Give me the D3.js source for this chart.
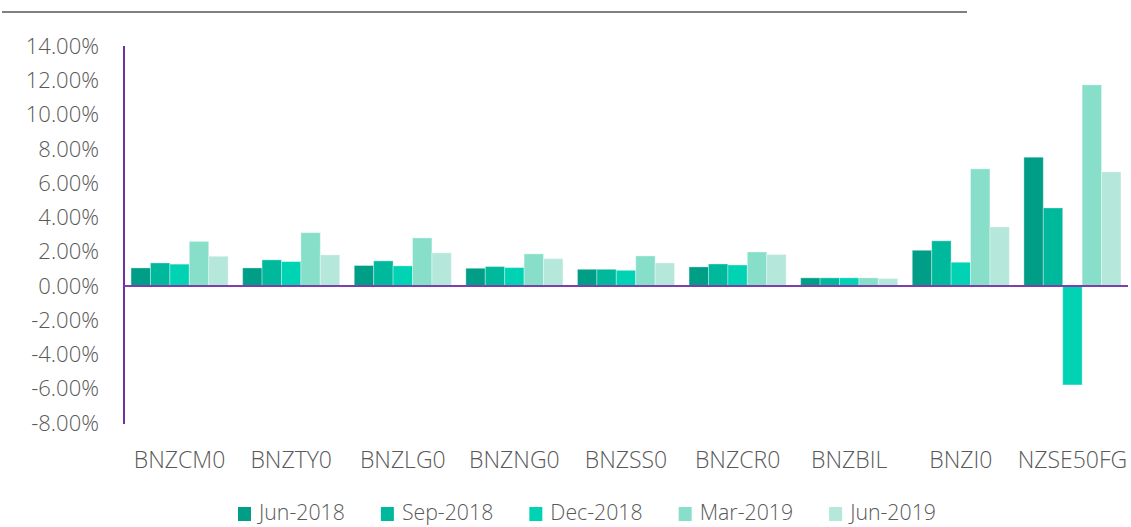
<!DOCTYPE html>
<html>
<head>
<meta charset="utf-8">
<script src="https://cdn.jsdelivr.net/npm/d3@7"></script>
<style>
  body { margin: 0; background: #fff; }
  svg text { font-family: "Open Sans", sans-serif; font-weight: 300; fill: #595959; }
</style>
</head>
<body>
<div id="chart"></div>
<script>
// chart data
const categories = ['BNZCM0', 'BNZTY0', 'BNZLG0', 'BNZNG0', 'BNZSS0', 'BNZCR0', 'BNZBIL', 'BNZI0', 'NZSE50FG'];
const seriesNames = ['Jun-2018', 'Sep-2018', 'Dec-2018', 'Mar-2019', 'Jun-2019'];
const jun2018 = [1.05, 1.05, 1.19, 1.03, 0.97, 1.11, 0.47, 2.08, 7.51];
const sep2018 = [1.34, 1.52, 1.46, 1.13, 0.97, 1.28, 0.47, 2.63, 4.55];
const dec2018 = [1.27, 1.42, 1.17, 1.07, 0.91, 1.22, 0.47, 1.38, -5.78];
const mar2019 = [2.60, 3.11, 2.80, 1.87, 1.75, 1.98, 0.47, 6.83, 11.73];
const jun2019 = [1.73, 1.81, 1.93, 1.59, 1.34, 1.83, 0.43, 3.44, 6.65];
const yTicks = [14, 12, 10, 8, 6, 4, 2, 0, -2, -4, -6, -8];
const colors = ['#009e87', '#00b89c', '#00d2b4', '#87dfca', '#b5e7da'];

const values = [jun2018, sep2018, dec2018, mar2019, jun2019];

const width = 1131;
const height = 527;

const svg = d3.select('#chart').append('svg')
    .attr('width', width)
    .attr('height', height);

// grey rule along the top
svg.append('line')
    .attr('x1', 2).attr('x2', 967)
    .attr('y1', 12).attr('y2', 12)
    .attr('stroke', '#808080')
    .attr('stroke-width', 2);

const x = d3.scaleBand()
    .domain(categories)
    .range([124, 1128])
    .paddingInner(0.13)
    .paddingOuter(0.063);

const xInner = d3.scaleBand()
    .domain(seriesNames)
    .range([0, x.bandwidth()]);

const y = d3.scaleLinear()
    .domain([-8, 14])
    .range([423, 46]);

// y tick labels
svg.append('g')
    .selectAll('text')
    .data(yTicks)
    .join('text')
    .attr('x', 99)
    .attr('y', d => y(d))
    .attr('dy', '0.35em')
    .attr('text-anchor', 'end')
    .attr('font-size', 22)
    .text(d => d.toFixed(2) + '%');

// bars
const groups = svg.append('g')
    .selectAll('g')
    .data(categories)
    .join('g')
    .attr('transform', d => `translate(${x(d)},0)`);

groups.selectAll('rect')
    .data((c, i) => seriesNames.map((s, k) => ({ series: s, k: k, value: values[k][i] })))
    .join('rect')
    .attr('x', d => xInner(d.series))
    .attr('width', xInner.bandwidth())
    .attr('y', d => y(Math.max(0, d.value)))
    .attr('height', d => Math.abs(y(d.value) - y(0)))
    .attr('fill', d => colors[d.k])
    .attr('stroke', '#ffffff')
    .attr('stroke-opacity', 0.35)
    .attr('stroke-width', 1);

// axis lines
svg.append('line')
    .attr('x1', 124).attr('x2', 124)
    .attr('y1', 46).attr('y2', 424)
    .attr('stroke', '#7030a0')
    .attr('stroke-width', 2);

svg.append('line')
    .attr('x1', 124).attr('x2', 1128)
    .attr('y1', y(0)).attr('y2', y(0))
    .attr('stroke', '#7b3fb0')
    .attr('stroke-width', 2);

// category labels
svg.append('g')
    .selectAll('text')
    .data(categories)
    .join('text')
    .attr('x', d => x(d) + x.bandwidth() / 2)
    .attr('y', 468)
    .attr('text-anchor', 'middle')
    .attr('font-size', 23)
    .text(d => d);

// legend
const legend = svg.append('g');
let lx = 238;
seriesNames.forEach((s, k) => {
    legend.append('rect')
        .attr('x', lx).attr('y', 507)
        .attr('width', 13).attr('height', 14)
        .attr('fill', colors[k]);
    const t = legend.append('text')
        .attr('x', lx + 21)
        .attr('y', 513)
        .attr('dy', '0.35em')
        .attr('font-size', 21.3)
        .text(s);
    lx += 21 + t.node().getComputedTextLength() + 36;
});
</script>
</body>
</html>
